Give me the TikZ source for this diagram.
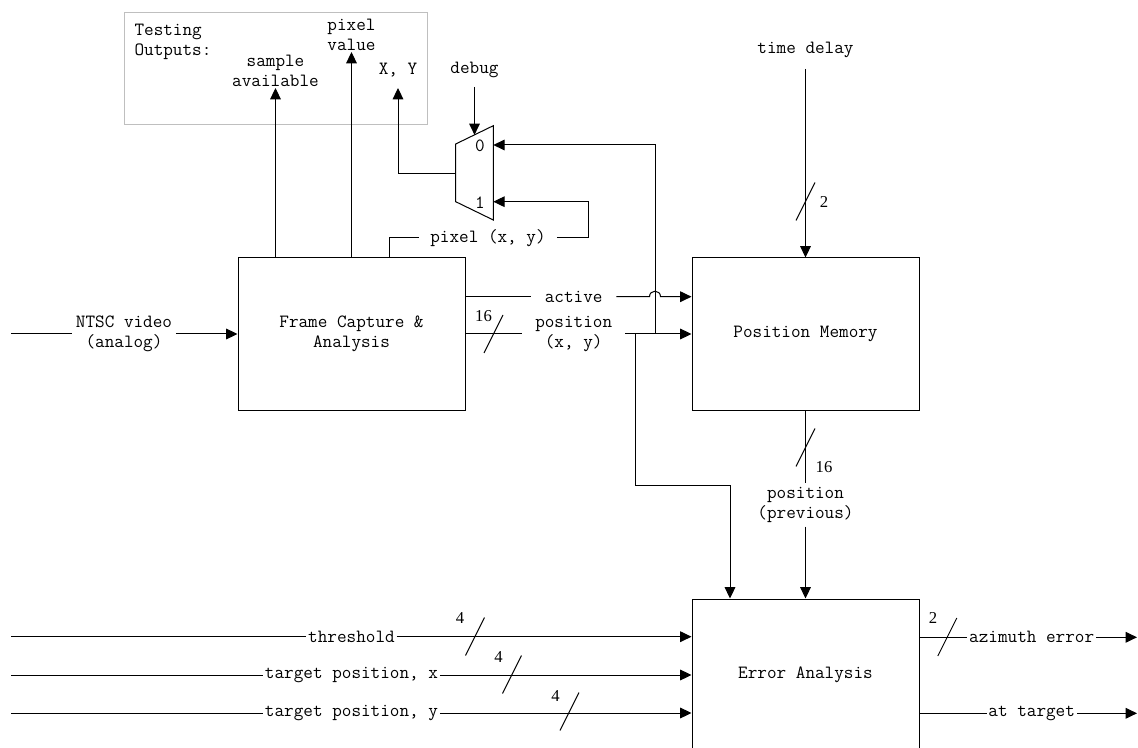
\documentclass[tikz,border=0pt]{standalone}
\usepackage{fontspec}
\newfontfamily\numfont{Liberation Serif}
\usetikzlibrary{arrows.meta,calc}
\newcommand\busmark[1]{\draw ($(#1)+(-9.5,19)$) -- ($(#1)+(9.5,-19)$);}
\begin{document}
\begin{tikzpicture}[x=0.75pt,y=-0.75pt, line width=0.75pt,
  font=\ttfamily\fontsize{14}{15}\selectfont,
  arr/.style={-{Triangle[length=8.5pt,width=8pt]}},
  blk/.style={draw, minimum width=170.25pt, minimum height=114pt, inner sep=0pt, align=center},
  lbl/.style={inner sep=1pt, align=center},
  num/.style={font=\numfont\fontsize{12.5}{15}\selectfont, inner sep=0pt}]
\useasboundingbox (0,0) rectangle (1138,748);
\clip (0,0) rectangle (1138,748);

% blocks
\node[blk] (fca) at (351.5,334) {Frame Capture \&\\Analysis};
\node[blk] (pm) at (805.5,334) {Position Memory};
\node[blk] (ea) at (805.5,675) {Error Analysis};

% testing outputs box
\node[draw=gray!50, minimum width=227.25pt, minimum height=84pt, inner sep=0pt] (tbox) at (275.5,69) {};
\node[lbl, anchor=west, align=left] (tout) at (132.7,41.7) {Testing\\Outputs:};
\node[lbl, anchor=south] (sa) at (275.5,88) {sample\\available};
\node[lbl, anchor=south] (pv) at (351.5,52) {pixel\\value};
\node[lbl, anchor=south, inner ysep=8pt] (xy) at (398,88) {X, Y};
\node[lbl, anchor=south, inner ysep=6.5pt] (dbg) at (474.5,87) {debug};
\node[lbl, anchor=south, inner ysep=8pt] (td) at (805.5,69) {time delay};

% mux
\coordinate (m1) at (455.7,144);
\coordinate (m2) at (493.3,125.7);
\coordinate (m3) at (493.3,220);
\coordinate (m4) at (455.7,201.7);
\draw (m1) -- (m2) -- (m3) -- (m4) -- cycle;
\coordinate (muxout) at (455.7,173.3);
\coordinate (muxin0) at (493.3,145);
\coordinate (muxin1) at (493.3,201.7);
\coordinate (muxsel) at (474.5,134.9);
\node[lbl] (l0) at (480,145.7) {0};
\node[lbl] (l1) at (480,202.3) {1};

% signal labels
\node[lbl, inner xsep=8pt] (pxl) at (488,238) {pixel (x, y)};
\node[lbl, inner xsep=10pt] (act) at (573.7,296.7) {active};
\node[lbl, inner xsep=9.5pt] (pos) at (573.7,334) {position\\(x, y)};
\node[lbl, inner xsep=2.5pt] (ntsc) at (124,334) {NTSC video\\(analog)};
\node[lbl, inner ysep=2.5pt] (prev) at (805.5,505) {position\\(previous)};
\node[lbl] (thr) at (351.5,636.7) {threshold};
\node[lbl] (tpx) at (351.5,675) {target position, x};
\node[lbl] (tpy) at (351.5,713) {target position, y};
\node[lbl] (az) at (1031.7,637.3) {azimuth error};
\node[lbl] (att) at (1031.7,713.3) {at target};

% free ends and corners
\coordinate (inN) at (11,334);
\coordinate (inT) at (11,636.7);
\coordinate (inX) at (11,675);
\coordinate (inY) at (11,713);
\coordinate (outA) at (1137,637.3);
\coordinate (outT) at (1137,713.3);
\coordinate (jup) at (655,334);
\coordinate (jdn) at (635.5,334);
\coordinate (k1) at (588,201.7);
\coordinate (k2) at (730,485.3);
\coordinate (hopc) at (jup |- act);
\coordinate (tapS) at (fca.north -| sa.south);
\coordinate (tapP) at (fca.north -| pv.south);
\coordinate (tapX) at ($(fca.north west)!0.665!(fca.north east)$);

% connectors
\draw (inN) -- (ntsc.west);
\draw[arr] (ntsc.east) -- (fca.west);
\draw (fca.east |- act) -- (act.west);
\draw[arr] (act.east) -- ($(hopc)+(-5.5,0)$) .. controls +(0,-7.3) and +(0,-7.3) .. ($(hopc)+(5.5,0)$) -- (pm.west |- act);
\draw (fca.east) -- (pos.west);
\draw[arr] (pos.east) -- (pm.west);
\draw[arr] (jup) |- (muxin0);
\draw[arr] (jdn) |- (k2) -- (ea.north -| k2);
\draw (tapX) |- (pxl.west);
\draw[arr] (pxl.east) -| (k1) -- (muxin1);
\draw[arr] (tapS) -- (sa.south);
\draw[arr] (tapP) -- (pv.south);
\draw[arr] (muxout) -| (xy.south);
\draw[arr] (dbg.south) -- (muxsel);
\draw[arr] (td.south) -- (pm.north);
\draw (pm.south) -- (prev.north);
\draw[arr] (prev.south) -- (ea.north);
\draw (inT) -- (thr.west);
\draw[arr] (thr.east) -- (ea.west |- thr);
\draw (inX) -- (tpx.west);
\draw[arr] (tpx.east) -- (ea.west |- tpx);
\draw (inY) -- (tpy.west);
\draw[arr] (tpy.east) -- (ea.west |- tpy);
\draw (ea.east |- az) -- (az.west);
\draw[arr] (az.east) -- (outA);
\draw (ea.east |- att) -- (att.west);
\draw[arr] (att.east) -- (outT);

% bus widths
\coordinate (s1) at (493.5,334);
\coordinate (s2) at (805.5,201.5);
\coordinate (s3) at (805.5,447.5);
\coordinate (s4) at (475,636.5);
\coordinate (s5) at (512,674.5);
\coordinate (s6) at (569.5,711.5);
\coordinate (s7) at (947.3,637);
\busmark{s1}\busmark{s2}\busmark{s3}\busmark{s4}\busmark{s5}\busmark{s6}\busmark{s7}
\node[num] (n1) at (483.5,316) {16};
\node[num] (n2) at (824,202) {2};
\node[num] (n3) at (824,467) {16};
\node[num] (n4) at (460,618.3) {4};
\node[num] (n5) at (498.5,656.7) {4};
\node[num] (n6) at (555.5,696) {4};
\node[num] (n7) at (933,618) {2};
\end{tikzpicture}
\end{document}
